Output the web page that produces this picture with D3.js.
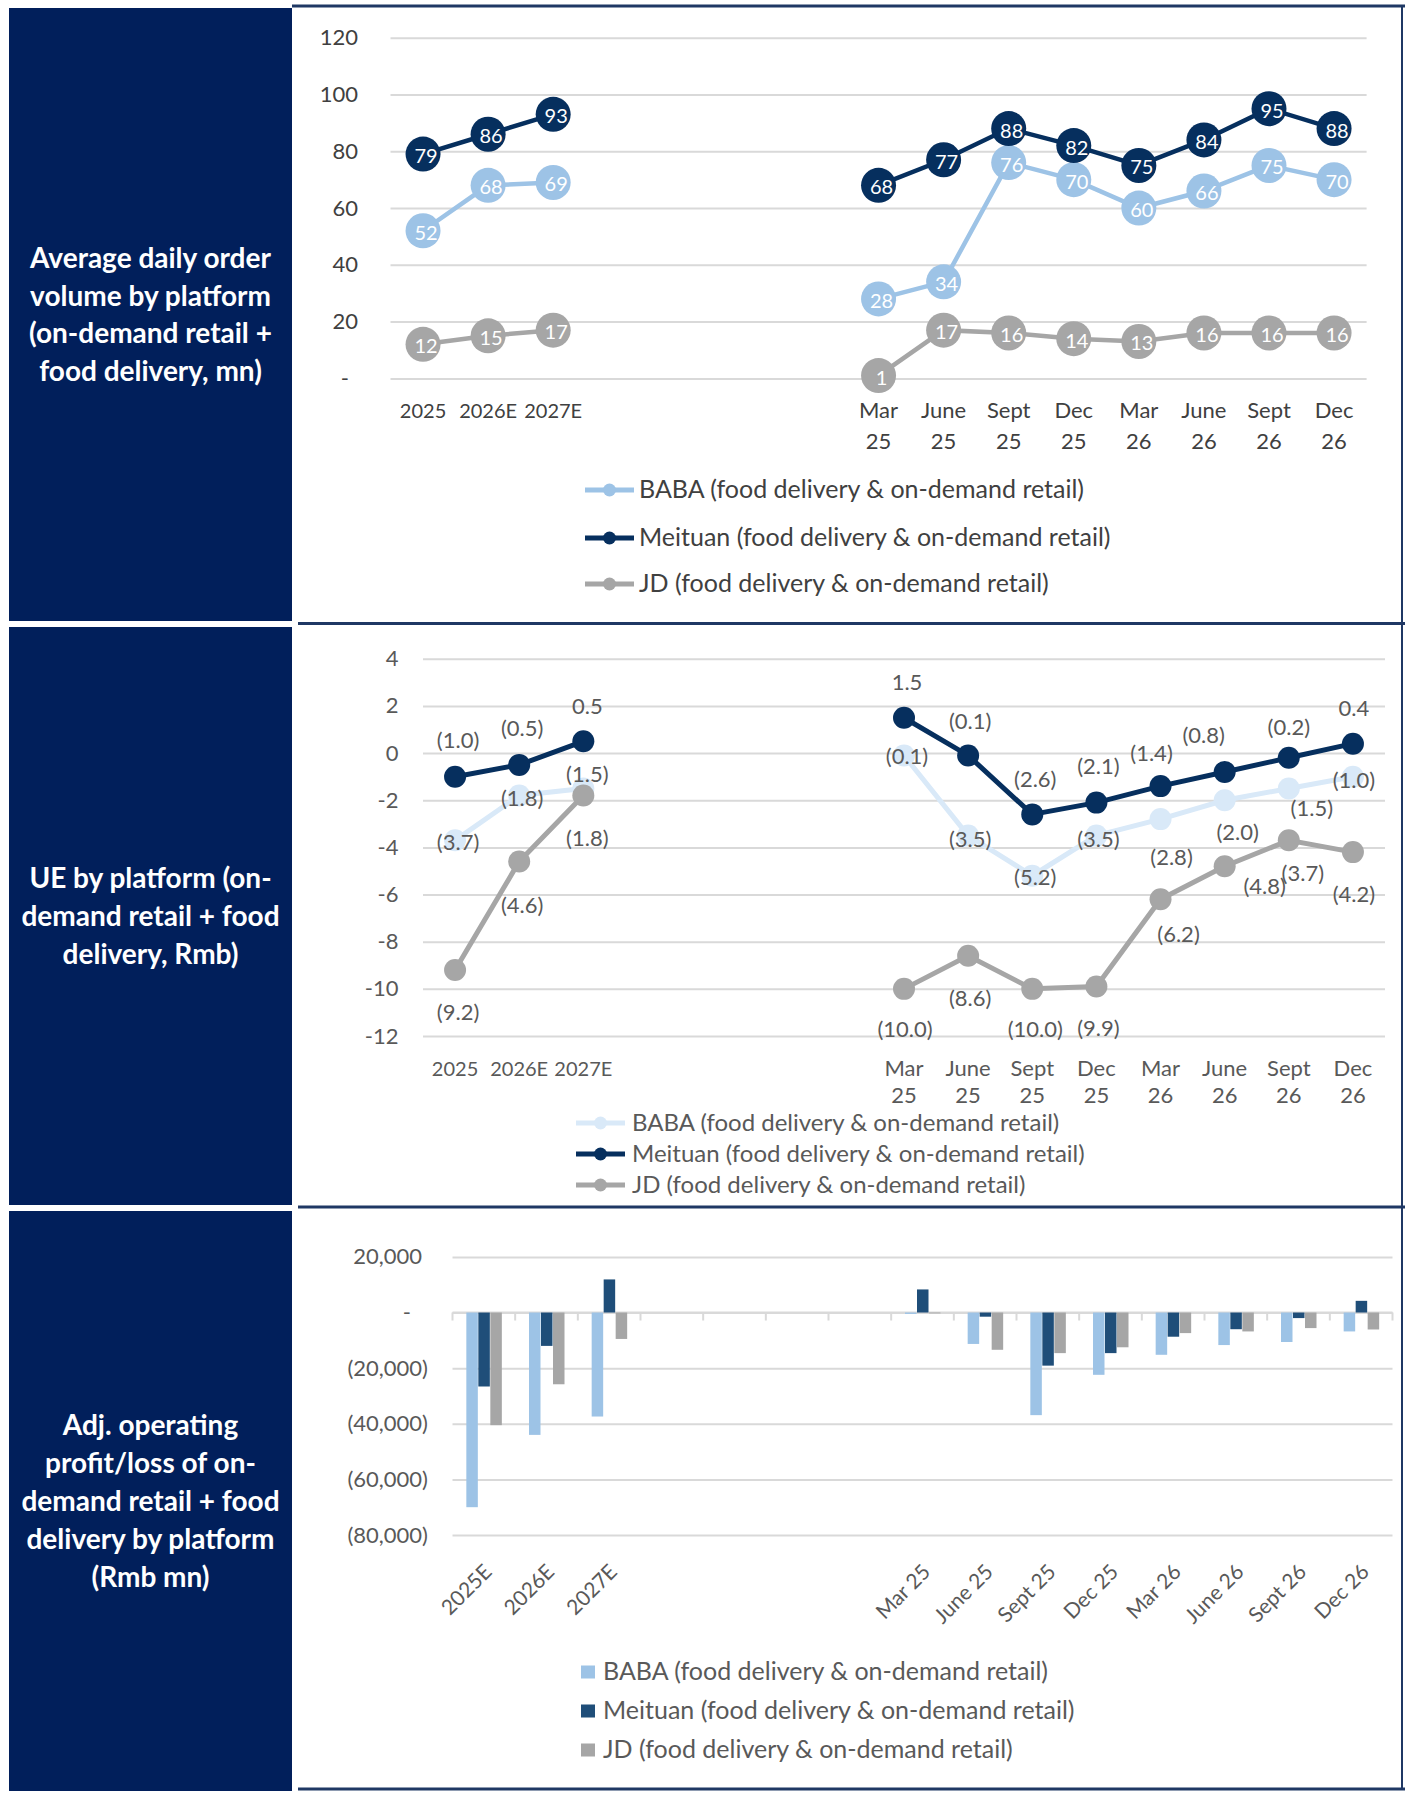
<!DOCTYPE html>
<html><head><meta charset="utf-8">
<script src="https://cdn.jsdelivr.net/npm/d3@7"></script>
<style>
body{margin:0;background:#fff;}
svg{display:block;}
text{font-family:Lato,"Open Sans","Noto Sans",sans-serif;}
</style>
</head><body>
<svg id="c" width="1405" height="1794"></svg>
<script>
// ---------- DATA ----------
const lineCategories = ["2025","2026E","2027E","","","","","Mar 25","June 25","Sept 25","Dec 25","Mar 26","June 26","Sept 26","Dec 26"];
const barCategories  = ["2025E","2026E","2027E","","","","","Mar 25","June 25","Sept 25","Dec 25","Mar 26","June 26","Sept 26","Dec 26"];
const seriesNames = ["BABA (food delivery & on-demand retail)","Meituan (food delivery & on-demand retail)","JD (food delivery & on-demand retail)"];

const orderBABA    = [52,68,69,null,null,null,null,28,34,76,70,60,66,75,70];
const orderMeituan = [79,86,93,null,null,null,null,68,77,88,82,75,84,95,88];
const orderJD      = [12,15,17,null,null,null,null,1,17,16,14,13,16,16,16];

const ueBABA    = [-3.7,-1.8,-1.5,null,null,null,null,-0.1,-3.5,-5.2,-3.5,-2.8,-2.0,-1.5,-1.0];
const ueMeituan = [-1.0,-0.5,0.5,null,null,null,null,1.5,-0.1,-2.6,-2.1,-1.4,-0.8,-0.2,0.4];
const ueJD      = [-9.2,-4.6,-1.8,null,null,null,null,-10.0,-8.6,-10.0,-9.9,-6.2,-4.8,-3.7,-4.2];

const opBABA    = [-70000,-44000,-37400,null,null,null,null,-500,-11300,-36900,-22400,-15200,-11700,-10600,-6800];
const opMeituan = [-26600,-12000,11900,null,null,null,null,8300,-1500,-19100,-14600,-8700,-6000,-2000,4200];
const opJD      = [-40500,-25800,-9500,null,null,null,null,-300,-13400,-14600,-12500,-7400,-6800,-5600,-6100];

const ticksOrder = [0,20,40,60,80,100,120];
const ticksUE    = [-12,-10,-8,-6,-4,-2,0,2,4];
const ticksOp    = [-80000,-60000,-40000,-20000,0,20000];

const rowTitles = [
  ["Average daily order","volume by platform","(on-demand retail +","food delivery, mn)"],
  ["UE by platform (on-","demand retail + food","delivery, Rmb)"],
  ["Adj. operating","profit/loss of on-","demand retail + food","delivery by platform","(Rmb mn)"]
];

// ---------- STYLE / LAYOUT ----------
const NAVY = "#011F5B", BORDER = "#1F3864";
const C_BABA = "#9DC3E6", C_BABA_LIGHT = "#D9E9F8", C_MT = "#062F5E", C_JD = "#A6A6A6";
const C_BAR_MT = "#1F4E79";
const GRID = "#D9D9D9";
// label offsets (dx,dy) for UE data labels, per series
const ueOffBABA = [[3,2],[3,2],[4,-14],null,null,null,null,[3,1],[2,3],[3,1],[2,3],[11,38],[13,32],[23,20],[1,3]];
const ueOffMT   = [[3,-37],[3,-37],[4,-35],null,null,null,null,[3,-36],[2,-34],[3,-35],[2,-37],[-9,-33],[-21,-37],[0,-31],[1,-36]];
const ueOffJD   = [[3,42],[3,43],[4,42],null,null,null,null,[1,40],[2,42],[3,40],[2,42],[18,35],[40,20],[14,33],[1,42]];

const svg = d3.select("#c");
const idx = d3.range(lineCategories.length);

// ---------- LEFT COLUMN & BORDERS ----------
const rows = [{y0:8,y1:621,b:6},{y0:627,y1:1205,b:623.5},{y0:1211,y1:1791,b:1207}];
rows.forEach((r,i)=>{
  svg.append("rect").attr("x",9).attr("y",r.y0).attr("width",283).attr("height",r.y1-r.y0).attr("fill",NAVY);
  svg.append("line").attr("x1",i===0?292:298).attr("x2",1405).attr("y1",r.b).attr("y2",r.b)
     .attr("stroke",BORDER).attr("stroke-width",3);
  const lh = 37.8, n = rowTitles[i].length, cy = (r.y0+r.y1)/2;
  const t = svg.append("text").attr("fill","#fff").attr("font-weight",700).attr("font-size",28)
     .attr("text-anchor","middle");
  rowTitles[i].forEach((s,k)=>{
    t.append("tspan").attr("x",150.5).attr("y",cy + (k-(n-1)/2)*lh + 10).text(s);
  });
});
svg.append("line").attr("x1",298).attr("x2",1405).attr("y1",1789).attr("y2",1789).attr("stroke",BORDER).attr("stroke-width",3);
svg.append("line").attr("x1",1402).attr("x2",1402).attr("y1",5).attr("y2",1790).attr("stroke",BORDER).attr("stroke-width",2);

// ---------- helpers ----------
function gridAndTicks(g, y, ticks, x0, x1, labelRight, fmt, color, zeroDx){
  g.append("g").attr("transform",`translate(${x0},0)`)
   .call(d3.axisLeft(y).tickValues(ticks).tickSize(-(x1-x0)).tickFormat(""))
   .call(a=>a.select(".domain").remove())
   .call(a=>a.selectAll("line").attr("stroke",GRID).attr("stroke-width",2));
  g.append("g").attr("transform",`translate(${labelRight},0)`)
   .call(d3.axisLeft(y).tickValues(ticks).tickSize(0).tickPadding(0).tickFormat(fmt))
   .call(a=>a.select(".domain").remove())
   .call(a=>a.selectAll("text").attr("font-size",22).attr("fill",color)
        .attr("font-family","Lato,'Open Sans',sans-serif")
        .attr("dx",d=>zeroDx(d)));
}
function xLabels(g, x, labels, yLine1, lineGap, color){
  const ax = g.append("g");
  idx.forEach(i=>{
    const s = labels[i]; if(!s) return;
    const parts = i<3 ? [s] : s.split(" ");
    const t = ax.append("text").attr("text-anchor","middle").attr("font-size",i<3?20:22).attr("fill",color);
    parts.forEach((p,k)=>t.append("tspan").attr("x",x(i)+x.bandwidth()/2).attr("y",yLine1+k*lineGap).text(p));
  });
}
function lineLegend(g, items, x0, x1, ys, tx, color, fs){
  items.forEach((it,k)=>{
    g.append("line").attr("x1",x0).attr("x2",x1).attr("y1",ys[k]).attr("y2",ys[k])
      .attr("stroke",it.c).attr("stroke-width",5);
    g.append("circle").attr("cx",(x0+x1)/2).attr("cy",ys[k]).attr("r",6.5).attr("fill",it.c);
    g.append("text").attr("x",tx).attr("y",ys[k]+fs*0.32).attr("font-size",fs).attr("fill",color).text(it.n);
  });
}

// ---------- PANEL 1: order volume ----------
{
  const g = svg.append("g");
  const x = d3.scaleBand().domain(idx).range([390.5,1366.6]);
  const y = d3.scaleLinear().domain([0,120]).range([378.4,37.7]);
  gridAndTicks(g,y,ticksOrder,390.5,1366.6,358,d=>d===0?"-":d,"#404040",d=>d===0?-9:0);
  xLabels(g,x,lineCategories,418,31,"#404040");
  const cx = i=>x(i)+x.bandwidth()/2;
  const series = [{v:orderBABA,c:C_BABA},{v:orderJD,c:C_JD},{v:orderMeituan,c:C_MT}];
  const line = d3.line().defined(d=>d.v!==null).x(d=>cx(d.i)).y(d=>y(d.v));
  series.forEach(s=>{
    const pts = s.v.map((v,i)=>({v,i}));
    g.append("path").attr("d",line(pts)).attr("fill","none").attr("stroke",s.c).attr("stroke-width",4.5);
    const p = pts.filter(d=>d.v!==null);
    g.selectAll(null).data(p).enter().append("circle").attr("cx",d=>cx(d.i)).attr("cy",d=>y(d.v)).attr("r",17.5).attr("fill",s.c);
    g.selectAll(null).data(p).enter().append("text").attr("x",d=>cx(d.i)+3).attr("y",d=>y(d.v)+9)
      .attr("text-anchor","middle").attr("font-size",20).attr("fill","#fff").text(d=>d.v);
  });
  lineLegend(g,[{n:seriesNames[0],c:C_BABA},{n:seriesNames[1],c:C_MT},{n:seriesNames[2],c:C_JD}],585,634,[490,538,584],639,"#404040",25);
}

// ---------- PANEL 2: UE ----------
{
  const g = svg.append("g");
  const x = d3.scaleBand().domain(idx).range([423,1385]);
  const y = d3.scaleLinear().domain([-12,4]).range([1036,658.8]);
  gridAndTicks(g,y,ticksUE,423,1385,398.5,d=>d,"#595959",()=>0);
  xLabels(g,x,lineCategories,1076,27,"#595959");
  const cx = i=>x(i)+x.bandwidth()/2;
  const fmt = v=> v<0 ? `(${Math.abs(v).toFixed(1)})` : v.toFixed(1);
  const series = [{v:ueBABA,c:C_BABA_LIGHT,o:ueOffBABA},{v:ueJD,c:C_JD,o:ueOffJD},{v:ueMeituan,c:C_MT,o:ueOffMT}];
  const line = d3.line().defined(d=>d.v!==null).x(d=>cx(d.i)).y(d=>y(d.v));
  series.forEach(s=>{
    const pts = s.v.map((v,i)=>({v,i}));
    g.append("path").attr("d",line(pts)).attr("fill","none").attr("stroke",s.c).attr("stroke-width",5);
    const p = pts.filter(d=>d.v!==null);
    g.selectAll(null).data(p).enter().append("circle").attr("cx",d=>cx(d.i)).attr("cy",d=>y(d.v)).attr("r",11).attr("fill",s.c);
  });
  series.forEach(s=>{
    const p = s.v.map((v,i)=>({v,i})).filter(d=>d.v!==null);
    g.selectAll(null).data(p).enter().append("text")
      .attr("x",d=>cx(d.i)+s.o[d.i][0]).attr("y",d=>y(d.v)+s.o[d.i][1]+8)
      .attr("text-anchor","middle").attr("font-size",22).attr("fill","#595959").text(d=>fmt(d.v));
  });
  lineLegend(g,[{n:seriesNames[0],c:C_BABA_LIGHT},{n:seriesNames[1],c:C_MT},{n:seriesNames[2],c:C_JD}],576,625,[1123,1154,1185],632,"#595959",24);
}

// ---------- PANEL 3: Adj. operating profit ----------
{
  const g = svg.append("g");
  const x = d3.scaleBand().domain(idx).range([452.5,1392.5]);
  const y = d3.scaleLinear().domain([-80000,20000]).range([1535,1256.9]);
  const fmtN = d3.format(",");
  gridAndTicks(g,y,ticksOp,452.5,1392.5,428,d=>d===0?"-":(d<0?`(${fmtN(-d)})`:fmtN(d)),"#595959",d=>d===0?-17:(d>0?-6:0));
  g.append("line").attr("x1",452.5).attr("x2",1392.5).attr("y1",y(0)).attr("y2",y(0)).attr("stroke",GRID).attr("stroke-width",2);
  const bounds = idx.map(i=>x(i)).concat([x(14)+x.bandwidth()]);
  g.selectAll(null).data(bounds).enter().append("line").attr("x1",d=>d).attr("x2",d=>d)
    .attr("y1",y(0)).attr("y2",y(0)+8).attr("stroke",GRID).attr("stroke-width",2);
  const inner = d3.scaleBand().domain([0,1,2]).range([0,36]);
  const series = [{v:opBABA,c:C_BABA},{v:opMeituan,c:C_BAR_MT},{v:opJD,c:C_JD}];
  series.forEach((s,k)=>{
    const p = s.v.map((v,i)=>({v,i})).filter(d=>d.v!==null);
    g.selectAll(null).data(p).enter().append("rect")
      .attr("x",d=>x(d.i)+(x.bandwidth()-36)/2+inner(k)+0.5)
      .attr("width",inner.bandwidth()-0.5)
      .attr("y",d=>Math.min(y(d.v),y(0)))
      .attr("height",d=>Math.abs(y(d.v)-y(0)))
      .attr("fill",s.c);
  });
  idx.forEach(i=>{
    const s = barCategories[i]; if(!s) return;
    g.append("text").attr("text-anchor","end").attr("font-size",21).attr("fill","#595959")
     .attr("transform",`translate(${x(i)+x.bandwidth()/2+4},1568) rotate(-45)`)
     .attr("dy","0.35em").text(s);
  });
  series.forEach((s,k)=>{
    const yy = [1672,1711,1750][k];
    g.append("rect").attr("x",581).attr("y",yy-6.5).attr("width",14).attr("height",13).attr("fill",s.c);
    g.append("text").attr("x",603).attr("y",yy+8).attr("font-size",25).attr("fill","#595959").text(seriesNames[k]);
  });
}
</script>
</body></html>
